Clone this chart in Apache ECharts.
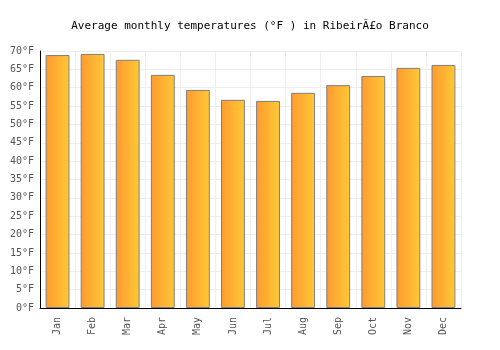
<!DOCTYPE html>
<html>
<head>
<meta charset="utf-8">
<script src="https://cdn.jsdelivr.net/npm/echarts@6/dist/echarts.min.js"></script>
<style>
  html, body { margin: 0; padding: 0; background: #fff; }
  #chart { width: 500px; height: 350px; }
</style>
</head>
<body>
<div id="chart"></div>
<script>
const months = ['Jan', 'Feb', 'Mar', 'Apr', 'May', 'Jun', 'Jul', 'Aug', 'Sep', 'Oct', 'Nov', 'Dec'];
const temps = [68.9, 69.2, 67.6, 63.5, 59.4, 56.7, 56.4, 58.6, 60.7, 63.2, 65.4, 66.2];
const yTicks = [0, 5, 10, 15, 20, 25, 30, 35, 40, 45, 50, 55, 60, 65, 70];

const font = '"DejaVu Sans Mono", monospace';
const chart = echarts.init(document.getElementById('chart'), null, { renderer: 'canvas' });

const option = {
  animation: false,
  title: {
    text: 'Average monthly temperatures (°F ) in RibeirÃ£o Branco',
    left: 'center',
    top: 16,
    textStyle: { fontFamily: font, fontSize: 11, fontWeight: 'normal', color: '#000' }
  },
  grid: { left: 40, right: 39, top: 51, bottom: 42 },
  xAxis: {
    type: 'category',
    data: months,
    axisLine: { lineStyle: { color: '#000', width: 1 } },
    axisTick: { show: false },
    splitLine: { show: true, lineStyle: { color: '#eeeeee' } },
    axisLabel: { rotate: 90, color: '#555', fontFamily: font, fontSize: 10, margin: 9 }
  },
  yAxis: {
    type: 'value',
    min: yTicks[0],
    max: yTicks[yTicks.length - 1],
    interval: 5,
    axisLine: { show: true, lineStyle: { color: '#000', width: 1 } },
    axisTick: { show: false },
    splitLine: { lineStyle: { color: '#eeeeee' } },
    axisLabel: { color: '#555', fontFamily: font, fontSize: 10, margin: 6, formatter: v => v + '°F' }
  },
  series: [{
    type: 'bar',
    data: temps,
    barWidth: '68%',
    itemStyle: {
      color: new echarts.graphic.LinearGradient(0, 0, 1, 0, [
        { offset: 0, color: '#ff9a30' },
        { offset: 1, color: '#ffc936' }
      ]),
      borderColor: '#7f7f7f',
      borderWidth: 1
    }
  }]
};

chart.setOption(option);
</script>
</body>
</html>
